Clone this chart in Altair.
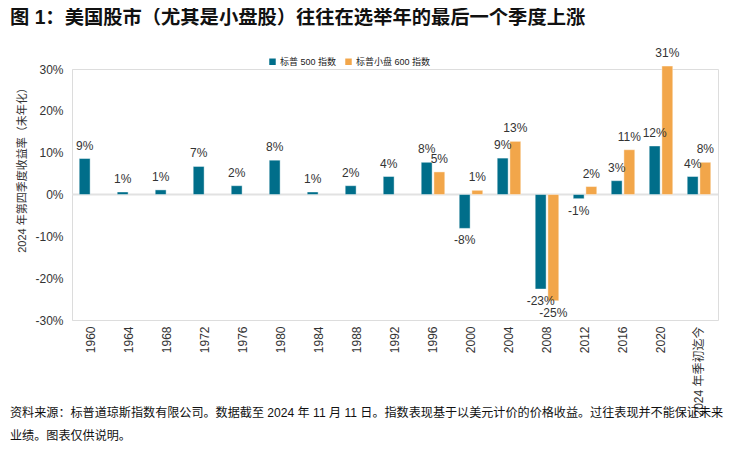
import altair as alt
import pandas as pd

years = ["1960", "1964", "1968", "1972", "1976", "1980", "1984", "1988", "1992",
         "1996", "2000", "2004", "2008", "2012", "2016", "2020", "2024 年季初迄今"]
sp500 = [8.6, 0.6, 1.1, 6.7, 2.1, 8.2, 0.6, 2.1, 4.3,
         7.7, -8.1, 8.7, -22.6, -1.0, 3.3, 11.6, 4.3]
smallcap = [None, None, None, None, None, None, None, None, None,
            5.4, 1.0, 12.7, -25.4, 1.9, 10.7, 30.7, 7.7]
series = ["标普 500 指数", "标普小盘 600 指数"]
colors = ["#006E8A", "#F2A64A"]
y_ticks = [-30, -20, -10, 0, 10, 20, 30]

title_text = "图 1：美国股市（尤其是小盘股）往往在选举年的最后一个季度上涨"
y_title = "2024 年第四季度收益率（未年化）"
foot1 = "资料来源：标普道琼斯指数有限公司。数据截至 2024 年 11 月 11 日。指数表现基于以美元计价的价格收益。过往表现并不能保证未来"
foot2 = "业绩。图表仅供说明。"

FONT = "Liberation Sans, Noto Sans CJK SC"
TXT = "#333333"

rows = []
for i, yr in enumerate(years):
    rows.append({"year": yr, "series": series[0], "value": sp500[i]})
    rows.append({"year": yr, "series": series[1], "value": smallcap[i]})
df = pd.DataFrame(rows)

x_enc = alt.X("year:N", sort=years,
              scale=alt.Scale(paddingInner=0.38, paddingOuter=0.19),
              axis=alt.Axis(title=None, labelAngle=270, labelFontSize=12,
                            labelColor=TXT, labelFont=FONT, domain=False,
                            ticks=False, labelPadding=6, labelLimit=200))
xo_enc = alt.XOffset("series:N", sort=series,
                     scale=alt.Scale(domain=series, paddingInner=0.14))
y_scale = alt.Scale(domain=[-30, 30])

base = alt.Chart(df)

zero = alt.Chart(pd.DataFrame({"z": [0]})).mark_rule(
    color="#e2e2e2", strokeWidth=2).encode(y=alt.Y("z:Q", scale=y_scale))

bars = base.mark_bar(stroke="#ffffff", strokeWidth=0.6, strokeOpacity=0.7).encode(
    x=x_enc,
    xOffset=xo_enc,
    y=alt.Y("value:Q", scale=y_scale,
            axis=alt.Axis(values=y_ticks, labelExpr="datum.value + '%'",
                          grid=False, ticks=False, domainColor="#dcdcdc",
                          domainWidth=1, labelFontSize=12, labelColor=TXT,
                          labelFont=FONT, labelPadding=9,
                          title=y_title, titleFont=FONT, titleFontSize=11,
                          titleFontWeight="normal", titleColor=TXT,
                          titleAngle=270, titleX=-50, titleY=98,
                          titleAlign="center", titleBaseline="middle")),
    color=alt.Color("series:N", sort=series,
                    scale=alt.Scale(domain=series, range=colors),
                    legend=alt.Legend(orient="none", legendX=196, legendY=-12,
                                      direction="horizontal", title=None,
                                      symbolType="square", symbolSize=42,
                                      symbolStrokeWidth=0, labelFontSize=9,
                                      labelFont=FONT, labelColor="#222222",
                                      columnPadding=7, labelOffset=3)),
)

pos_labels = base.transform_filter("datum.value != null && datum.value >= 0").transform_calculate(
    label="round(datum.value) + '%'").mark_text(
    baseline="bottom", dy=-6, fontSize=12, font=FONT, color=TXT).encode(
    x=alt.X("year:N", sort=years), xOffset=alt.XOffset("series:N", sort=series),
    y=alt.Y("value:Q", scale=y_scale), text="label:N")

neg_labels = base.transform_filter("datum.value != null && datum.value < 0").transform_calculate(
    label="round(datum.value) + '%'").mark_text(
    baseline="top", dy=7, fontSize=12, font=FONT, color=TXT).encode(
    x=alt.X("year:N", sort=years), xOffset=alt.XOffset("series:N", sort=series),
    y=alt.Y("value:Q", scale=y_scale), text="label:N")

title = alt.Chart(pd.DataFrame({"t": [title_text]})).mark_text(
    align="left", baseline="middle", fontSize=19.3, fontWeight="bold",
    font=FONT, color="#111111").encode(
    text="t:N", x=alt.value(-62), y=alt.value(-51))

f1 = alt.Chart(pd.DataFrame({"t": [foot1]})).mark_text(
    align="left", baseline="middle", fontSize=12.1, font=FONT, color="#111111").encode(
    text="t:N", x=alt.value(-62), y=alt.value(344))

f2 = alt.Chart(pd.DataFrame({"t": [foot2]})).mark_text(
    align="left", baseline="middle", fontSize=12.1, font=FONT, color="#111111").encode(
    text="t:N", x=alt.value(-62), y=alt.value(367))

chart = alt.layer(zero, bars, pos_labels, neg_labels, title, f1, f2).properties(
    width=646, height=251,
    padding={"left": 64, "top": 61, "right": 13, "bottom": 124},
    autosize=alt.AutoSizeParams(type="none"),
).configure_view(stroke=None).configure(background="white")

chart.save("out.html", embed_options={"renderer": "svg", "actions": False})
